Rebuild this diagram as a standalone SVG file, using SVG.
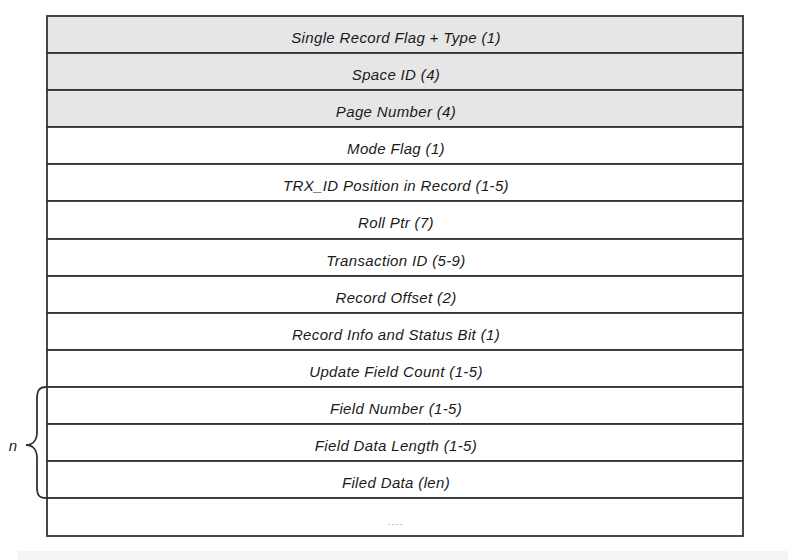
<svg xmlns="http://www.w3.org/2000/svg" width="788" height="560" viewBox="0 0 788 560">
<style>
.row{stroke:#333;stroke-width:1.8;fill:#fff}
.hdr{fill:#e6e6e6}
.t{font-family:"Liberation Sans",Arial,sans-serif;font-style:italic;font-size:15px;letter-spacing:0.35px;fill:#1a1a1a;text-anchor:middle}
</style>
<rect x="0" y="0" width="788" height="560" fill="#fff"/>
<rect x="18" y="551" width="770" height="9" fill="#f4f4f4"/>
<g id="r0"><rect class="row hdr" x="47" y="16" width="696" height="37"/><text class="t" x="396" y="43">Single Record Flag + Type (1)</text></g>
<g id="r1"><rect class="row hdr" x="47" y="53" width="696" height="37"/><text class="t" x="396" y="80">Space ID (4)</text></g>
<g id="r2"><rect class="row hdr" x="47" y="90" width="696" height="37"/><text class="t" x="396" y="117">Page Number (4)</text></g>
<g id="r3"><rect class="row" x="47" y="127" width="696" height="37"/><text class="t" x="396" y="154">Mode Flag (1)</text></g>
<g id="r4"><rect class="row" x="47" y="164" width="696" height="37"/><text class="t" x="396" y="191">TRX_ID Position in Record (1-5)</text></g>
<g id="r5"><rect class="row" x="47" y="201" width="696" height="38"/><text class="t" x="396" y="228">Roll Ptr (7)</text></g>
<g id="r6"><rect class="row" x="47" y="239" width="696" height="37"/><text class="t" x="396" y="266">Transaction ID (5-9)</text></g>
<g id="r7"><rect class="row" x="47" y="276" width="696" height="37"/><text class="t" x="396" y="303">Record Offset (2)</text></g>
<g id="r8"><rect class="row" x="47" y="313" width="696" height="37"/><text class="t" x="396" y="340">Record Info and Status Bit (1)</text></g>
<g id="r9"><rect class="row" x="47" y="350" width="696" height="37"/><text class="t" x="396" y="377">Update Field Count (1-5)</text></g>
<g id="r10"><rect class="row" x="47" y="387" width="696" height="37"/><text class="t" x="396" y="414">Field Number (1-5)</text></g>
<g id="r11"><rect class="row" x="47" y="424" width="696" height="37"/><text class="t" x="396" y="451">Field Data Length (1-5)</text></g>
<g id="r12"><rect class="row" x="47" y="461" width="696" height="37"/><text class="t" x="396" y="488">Filed Data (len)</text></g>
<g id="r13"><rect class="row" x="47" y="498" width="696" height="38"/><text class="t" x="396" y="525" style="font-size:9px;letter-spacing:1.5px;fill:#777">....</text></g>
<g id="brace">
<path d="M46,387 C39,387 37,391 37,399 L37,432 C37,440 33,445 26,445 C33,445 37,450 37,458 L37,487 C37,495 39,498 46,498" fill="none" stroke="#333" stroke-width="1.8"/>
<text class="t" x="13" y="451">n</text>
</g>
</svg>
